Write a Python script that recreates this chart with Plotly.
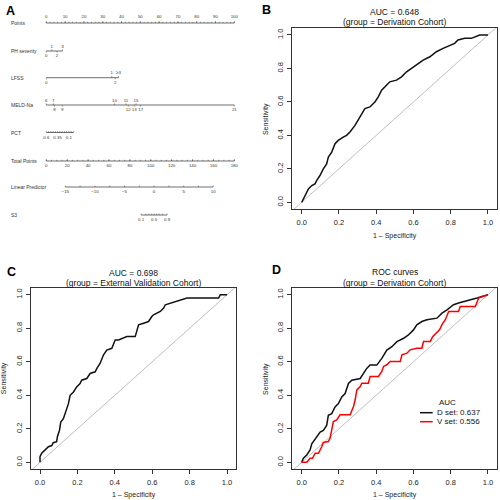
import math
import plotly.graph_objects as go

# ---------------- ROC data ----------------
# Panel B: Derivation cohort (AUC = 0.648)
b_fpr = [0.0,0.018,0.036,0.054,0.071,0.08,0.098,0.116,0.134,0.143,0.161,0.179,0.196,0.223,0.241,0.259,0.286,0.313,0.339,0.366,
         0.393,0.411,0.429,0.455,0.473,0.509,0.536,0.563,0.589,0.616,0.652,0.688,0.723,0.759,0.795,0.821,0.839,0.875,0.911,0.955,1.0]
b_tpr = [0.0,0.04,0.08,0.10,0.11,0.13,0.16,0.20,0.23,0.27,0.30,0.35,0.37,0.39,0.40,0.42,0.46,0.51,0.56,0.57,
         0.60,0.63,0.67,0.70,0.72,0.73,0.75,0.78,0.80,0.82,0.85,0.87,0.90,0.92,0.94,0.95,0.97,0.98,0.98,1.0,1.0]

# Panel C: External validation cohort (AUC = 0.698)
c_fpr = [0,0,0.009,0.027,0.045,0.063,0.071,0.089,0.093,0.104,0.111,0.125,0.134,0.143,0.152,0.161,0.179,0.196,0.214,0.223,
         0.25,0.268,0.295,0.304,0.321,0.339,0.357,0.384,0.402,0.42,0.446,0.464,0.509,0.518,0.527,0.554,0.58,0.598,0.607,0.643,
         0.661,0.67,0.696,0.723,0.75,0.786,0.955,0.964,1.0]
c_tpr = [0,0.034,0.054,0.073,0.093,0.10,0.117,0.123,0.153,0.19,0.24,0.26,0.29,0.33,0.35,0.40,0.42,0.45,0.47,0.49,
         0.50,0.53,0.54,0.56,0.59,0.64,0.67,0.68,0.73,0.73,0.74,0.75,0.75,0.79,0.82,0.83,0.84,0.87,0.88,0.90,
         0.92,0.94,0.95,0.96,0.97,0.98,0.98,1.0,1.0]

# Panel D: D set (black) and V set (red)
d_fpr = [0,0.009,0.027,0.045,0.054,0.072,0.099,0.116,0.134,0.143,0.161,0.179,0.197,0.215,0.233,0.251,0.269,0.314,0.332,0.349,
         0.367,0.403,0.43,0.457,0.484,0.511,0.547,0.573,0.6,0.618,0.645,0.672,0.726,0.753,0.78,0.815,0.842,0.878,0.914,0.941,0.968,1.0]
d_tpr = [0,0.024,0.044,0.074,0.11,0.14,0.18,0.19,0.22,0.28,0.29,0.33,0.35,0.39,0.41,0.47,0.49,0.50,0.53,0.56,
         0.58,0.58,0.62,0.67,0.69,0.72,0.74,0.76,0.79,0.82,0.84,0.85,0.86,0.89,0.91,0.94,0.95,0.96,0.97,0.98,0.99,1.0]
v_fpr = [0,0.027,0.045,0.058,0.072,0.09,0.108,0.116,0.143,0.152,0.17,0.188,0.206,0.26,0.278,0.287,0.296,0.314,0.323,0.358,
         0.367,0.412,0.43,0.439,0.457,0.475,0.529,0.538,0.565,0.582,0.618,0.645,0.654,0.69,0.704,0.722,0.74,0.753,0.771,0.789,
         0.842,0.851,0.932,0.95,0.977,1.0]
v_tpr = [0,0,0.024,0.024,0.054,0.054,0.094,0.118,0.124,0.143,0.243,0.253,0.283,0.283,0.333,0.373,0.432,0.452,0.472,0.472,
         0.512,0.512,0.542,0.572,0.582,0.602,0.602,0.641,0.651,0.671,0.681,0.681,0.721,0.721,0.751,0.771,0.791,0.821,0.851,0.90,
         0.90,0.93,0.93,0.98,0.99,1.0]
d_auc = 0.637
v_auc = 0.556

roc_ticks = [0.0, 0.2, 0.4, 0.6, 0.8, 1.0]

# ---------------- Nomogram data ----------------
nomo_names = ["Points", "PH severity", "LFSS", "MELD-Na", "PCT", "Total Points", "Linear Predictor", "S3"]
points_labels = [0, 10, 20, 30, 40, 50, 60, 70, 80, 90, 100]
points_minor = [0, 2, 4, 6, 8, 10, 12, 14, 16, 18, 20, 22, 24, 26, 28, 30, 32, 34, 36, 38, 40, 42, 44, 46, 48, 50,
                52, 54, 56, 58, 60, 62, 64, 66, 68, 70, 72, 74, 76, 78, 80, 82, 84, 86, 88, 90, 92, 94, 96, 98, 100]

ph_levels = ["0", "1", "2", "3"]
ph_points = [0.0, 2.9, 5.7, 8.6]
ph_sides = ["below", "above", "below", "above"]

lfss_levels = ["0", "1", "2", "≥3"]
lfss_points = [0.0, 34.8, 36.6, 38.4]
lfss_sides = ["below", "above", "below", "above"]

meld_levels = ["6", "7", "8", "9", "10", "11", "12", "13", "15", "17", "21"]
meld_points = [0.0, 3.7, 4.3, 8.5, 36.2, 42.4, 43.6, 46.8, 47.7, 50.2, 100.0]
meld_sides = ["above", "above", "below", "below", "above", "above", "below", "below", "above", "below", "below"]

pct_values = [0.6, 0.55, 0.5, 0.45, 0.4, 0.35, 0.3, 0.25, 0.2, 0.15, 0.1, 0.05, 0.0]
pct_points = [0.0, 1.2, 2.4, 3.6, 4.8, 6.0, 7.2, 8.4, 9.6, 10.8, 12.0, 13.2, 14.4]
pct_labeled = [0.6, 0.35, 0.1]

total_points_labels = [0, 20, 40, 60, 80, 100, 120, 140, 160, 180]
total_points_minor = [0, 5, 10, 15, 20, 25, 30, 35, 40, 45, 50, 55, 60, 65, 70, 75, 80, 85, 90, 95, 100,
                      105, 110, 115, 120, 125, 130, 135, 140, 145, 150, 155, 160, 165, 170, 175, 180]
total_points_max = 180

lp_labels = [-15, -10, -5, 0, 5, 10]
lp_minor = [-15, -12.5, -10, -7.5, -5, -2.5, 0, 2.5, 5, 7.5, 10]
lp_intercept = -18.213
lp_slope = 0.17655

s3_probs = [0.1, 0.2, 0.3, 0.4, 0.5, 0.6, 0.7, 0.8, 0.9]
s3_labeled = [0.1, 0.5, 0.9]


def tp_to_pts(tp):
    return tp * 100.0 / total_points_max


def lp_to_pts(lp):
    return tp_to_pts((lp - lp_intercept) / lp_slope)


def prob_to_pts(p):
    return lp_to_pts(math.log(p / (1 - p)))


# ---------------- layout helpers (pixel geometry) ----------------
W = H = 500
FONT = "Liberation Sans, Arial, Helvetica, sans-serif"
def px(x):
    return x / W
def py(y):
    return 1 - y / H

fig = go.Figure()
annotations = []
shapes = []

# ---------------- Nomogram (panel A) ----------------
LINE_C = "#4a4a4a"
TXT_C = "#333333"
row_y = dict(zip(nomo_names, [23, 51, 77.7, 105, 132.5, 161, 187, 215]))


def add_line(xs, ys, width=0.8, color=LINE_C):
    fig.add_trace(go.Scatter(x=xs, y=ys, mode="lines", xaxis="x", yaxis="y",
                             line=dict(color=color, width=width), hoverinfo="skip", showlegend=False))


def add_texts(xs, ys, texts, size=4.4):
    fig.add_trace(go.Scatter(x=xs, y=ys, mode="text", text=texts, xaxis="x", yaxis="y",
                             textposition="middle center",
                             textfont=dict(size=size, color=TXT_C, family=FONT),
                             hoverinfo="skip", showlegend=False))


def ticks(xs, y, length, up=True):
    tx, ty = [], []
    for x in xs:
        tx += [x, x, None]
        ty += [y, y - length if up else y + length, None]
    add_line(tx, ty, width=0.6)


def categorical_row(name, pts, labels, sides):
    y = row_y[name]
    add_line([min(pts), max(pts)], [y, y])
    for p, lab, s in zip(pts, labels, sides):
        up = s == "above"
        ticks([p], y, 1.6, up=up)
    ax = [p for p, s in zip(pts, sides) if s == "above"]
    al = [l for l, s in zip(labels, sides) if s == "above"]
    bx = [p for p, s in zip(pts, sides) if s == "below"]
    bl = [l for l, s in zip(labels, sides) if s == "below"]
    add_texts(ax, [y - 4.4] * len(ax), al)
    add_texts(bx, [y + 4.8] * len(bx), bl)


# Points
y = row_y["Points"]
add_line([min(points_labels), max(points_labels)], [y, y])
ticks(points_minor, y, 1.2)
ticks(points_labels, y, 1.8)
add_texts(points_labels, [y - 6.5] * len(points_labels), [str(v) for v in points_labels])

categorical_row("PH severity", ph_points, ph_levels, ph_sides)
categorical_row("LFSS", lfss_points, lfss_levels, lfss_sides)
categorical_row("MELD-Na", meld_points, meld_levels, meld_sides)

# PCT
y = row_y["PCT"]
add_line([min(pct_points), max(pct_points)], [y, y])
ticks(pct_points, y, 1.4)
lab_x = [p for v, p in zip(pct_values, pct_points) if v in pct_labeled]
lab_t = [("%g" % v) for v in pct_values if v in pct_labeled]
add_texts(lab_x, [y + 5.8] * len(lab_x), lab_t)

# Total points
y = row_y["Total Points"]
tpx = [tp_to_pts(v) for v in total_points_minor]
add_line([min(tpx), max(tpx)], [y, y])
ticks(tpx, y, 1.2)
tlx = [tp_to_pts(v) for v in total_points_labels]
ticks(tlx, y, 1.8)
add_texts(tlx, [y + 4.6] * len(tlx), [str(v) for v in total_points_labels])

# Linear predictor
y = row_y["Linear Predictor"]
lpx = [lp_to_pts(v) for v in lp_minor]
add_line([min(lpx), max(lpx)], [y, y])
ticks(lpx, y, 1.4)
llx = [lp_to_pts(v) for v in lp_labels]
add_texts(llx, [y + 5.0] * len(llx), [("−%d" % -v) if v < 0 else str(v) for v in lp_labels])

# S3
y = row_y["S3"]
sx = [prob_to_pts(p) for p in s3_probs]
add_line([min(sx), max(sx)], [y, y])
ticks(sx, y, 1.4)
slx = [prob_to_pts(p) for p in s3_labeled]
add_texts(slx, [y + 5.0] * len(slx), ["%g" % p for p in s3_labeled])

for name in nomo_names:
    annotations.append(dict(x=px(9), y=py(row_y[name]), xref="paper", yref="paper", text=name,
                            showarrow=False, xanchor="left", yanchor="middle",
                            font=dict(size=5, color=TXT_C, family=FONT)))

# ---------------- ROC panels ----------------
BOX_C = "#333333"
panels = {
    # name: (xaxis id, yaxis id, x box px, y box px)
    "B": ("x2", "y2", (292.4, 497.3), (28.3, 209.0)),
    "C": ("x3", "y3", (30.65, 236.4), (288.0, 469.0)),
    "D": ("x4", "y4", (292.4, 497.3), (288.0, 469.0)),
}


def roc_trace(xs, ys, xa, ya, color, width=1.5):
    return go.Scatter(x=xs, y=ys, mode="lines", xaxis=xa, yaxis=ya,
                      line=dict(color=color, width=width), hoverinfo="skip", showlegend=False)


for key, (xa, ya, (x0, x1), (y0, y1)) in panels.items():
    fig.add_trace(go.Scatter(x=[-0.05, 1.05], y=[-0.05, 1.05], mode="lines", xaxis=xa, yaxis=ya,
                             line=dict(color="#BEBEBE", width=1), hoverinfo="skip", showlegend=False))

fig.add_trace(roc_trace(b_fpr, b_tpr, "x2", "y2", "#111111"))
fig.add_trace(roc_trace(c_fpr, c_tpr, "x3", "y3", "#111111"))
fig.add_trace(roc_trace(d_fpr, d_tpr, "x4", "y4", "#111111"))
fig.add_trace(roc_trace(v_fpr, v_tpr, "x4", "y4", "#FF0000"))

axis_common = dict(showgrid=False, zeroline=False, showline=True, linecolor=BOX_C, linewidth=0.9,
                   mirror=True, ticks="outside", ticklen=4, tickwidth=0.8, tickcolor=BOX_C,
                   tickvals=roc_ticks, ticktext=["%.1f" % t for t in roc_ticks],
                   tickfont=dict(size=7.5, color="#222222", family=FONT), fixedrange=True)

layout_axes = {}
layout_axes["xaxis"] = dict(domain=[0, 0.5], range=[-46.33 / 1.88, (250 - 46.33) / 1.88], visible=False, fixedrange=True)
layout_axes["yaxis"] = dict(domain=[0.5, 1.0], range=[250, 0], visible=False, fixedrange=True)
for key, (xa, ya, (x0, x1), (y0, y1)) in panels.items():
    xn = "xaxis" + xa[1:]
    yn = "yaxis" + ya[1:]
    layout_axes[xn] = dict(axis_common, domain=[px(x0), px(x1)], range=[-0.05, 1.05], anchor=ya,
                           ticklabelstandoff=2)
    layout_axes[yn] = dict(axis_common, domain=[py(y1), py(y0)], range=[-0.04, 1.04], anchor=xa,
                           tickangle=-90, ticklabelstandoff=1)
    cx = (x0 + x1) / 2
    cy = (y0 + y1) / 2
    annotations.append(dict(x=px(cx), y=py(min(y1 + 27, 494.5)), xref="paper", yref="paper", text="1 – Specificity",
                            showarrow=False, xanchor="center", yanchor="middle",
                            font=dict(size=7, color="#222222", family=FONT)))
    annotations.append(dict(x=px(x0 - 27), y=py(cy), xref="paper", yref="paper", text="Sensitivity",
                            showarrow=False, xanchor="center", yanchor="middle", textangle=-90,
                            font=dict(size=7, color="#222222", family=FONT)))

titles = {
    "B": ("AUC = 0.648", "(group = Derivation Cohort)", 12.0, 22.0),
    "C": ("AUC = 0.698", "(group = External Validation Cohort)", 272.8, 283.0),
    "D": ("ROC curves", "(group = Derivation Cohort)", 272.0, 283.0),
}
for key, (l1, l2, ty1, ty2) in titles.items():
    xa, ya, (x0, x1), _ = panels[key]
    cx = (x0 + x1) / 2
    for t, ty in ((l1, ty1), (l2, ty2)):
        annotations.append(dict(x=px(cx), y=py(ty), xref="paper", yref="paper", text=t, showarrow=False,
                                xanchor="center", yanchor="middle",
                                font=dict(size=8.5, color="#111111", family=FONT)))

# panel letters
for letter, (lx, ly) in {"A": (10.3, 11), "B": (266.7, 9.5), "C": (11, 272), "D": (276, 270)}.items():
    annotations.append(dict(x=px(lx), y=py(ly), xref="paper", yref="paper", text="<b>%s</b>" % letter,
                            showarrow=False, xanchor="center", yanchor="middle",
                            font=dict(size=12.5, color="#000000", family=FONT)))

# legend of panel D
annotations.append(dict(x=px(447.7), y=py(402.3), xref="paper", yref="paper", text="AUC", showarrow=False,
                        xanchor="center", yanchor="middle", font=dict(size=8, color="#111111", family=FONT)))
for txt, col, ly in (("D set: %.3f" % d_auc, "#111111", 412.7), ("V set: %.3f" % v_auc, "#FF0000", 421.7)):
    shapes.append(dict(type="line", xref="paper", yref="paper", x0=px(420), x1=px(432.7), y0=py(ly), y1=py(ly),
                       line=dict(color=col, width=1.5)))
    annotations.append(dict(x=px(435), y=py(ly), xref="paper", yref="paper", text=txt, showarrow=False,
                            xanchor="left", yanchor="middle", font=dict(size=8, color="#111111", family=FONT)))

fig.update_layout(width=W, height=H, margin=dict(l=0, r=0, t=0, b=0), autosize=False,
                  paper_bgcolor="white", plot_bgcolor="white", showlegend=False,
                  annotations=annotations, shapes=shapes, **layout_axes)

fig.write_html("out.html", config={"displayModeBar": False},
               post_script="document.body.style.margin='0px';document.body.style.padding='0px';")
